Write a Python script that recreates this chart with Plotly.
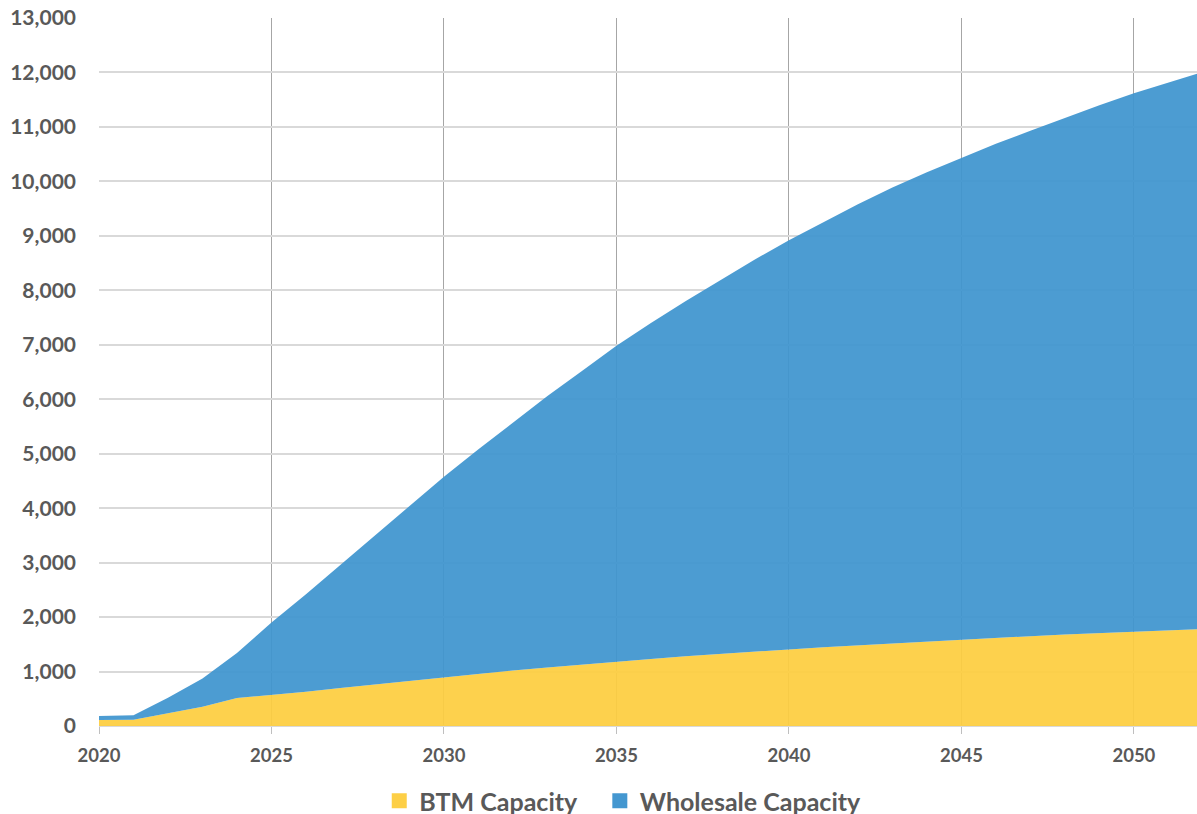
import plotly.graph_objects as go

years = list(range(2020, 2053))
btm_capacity = [110, 115, 235, 355, 515, 568, 630, 700, 765, 830, 896, 960, 1020,
                1075, 1130, 1184, 1230, 1280, 1325, 1365, 1405, 1445, 1480, 1520,
                1555, 1589, 1620, 1650, 1680, 1708, 1736, 1760, 1780]
wholesale_capacity = [75, 82, 285, 515, 825, 1332, 1790, 2260, 2735, 3210, 3682, 4120,
                      4550, 4985, 5390, 5796, 6170, 6520, 6855, 7195, 7515, 7805, 8100,
                      8370, 8615, 8841, 9070, 9280, 9490, 9692, 9884, 10060, 10230]

y_ticks = list(range(0, 14000, 1000))
x_ticks = [2020, 2025, 2030, 2035, 2040, 2045, 2050]

font_family = "Lato, 'Open Sans', sans-serif"
grey_text = "#595959"
yellow = "#FDCF46"
blue = "#4497D0"

fig = go.Figure()
fig.add_trace(go.Scatter(
    x=years, y=btm_capacity, name="BTM Capacity", stackgroup="one",
    mode="lines", line=dict(width=0, color=yellow),
    fillcolor="rgba(253,205,64,0.93)", showlegend=False,
))
fig.add_trace(go.Scatter(
    x=years, y=wholesale_capacity, name="Wholesale Capacity", stackgroup="one",
    mode="lines", line=dict(width=0, color=blue),
    fillcolor="rgba(62,148,207,0.93)", showlegend=False,
))
# legend entries (square swatches)
for nm, col in [("BTM Capacity" + "\u00a0" * 3, yellow), ("Wholesale Capacity", blue)]:
    fig.add_trace(go.Scatter(
        x=[None], y=[None], name=nm, mode="markers",
        marker=dict(symbol="square", size=15, color=col, line=dict(width=0)),
        showlegend=True,
    ))

fig.update_layout(
    width=1197, height=814,
    margin=dict(l=99, r=0, t=18, b=88),
    paper_bgcolor="white", plot_bgcolor="white",
    font=dict(family=font_family, color=grey_text, size=18),
    showlegend=True,
    legend=dict(
        orientation="h", x=0.477, xanchor="center",
        yref="container", y=(814 - 801) / 814, yanchor="middle",
        font=dict(size=25, color=grey_text, family=font_family, weight="bold"),
        traceorder="normal", bgcolor="rgba(0,0,0,0)", itemwidth=30,
        tracegroupgap=0,
    ),
    xaxis=dict(
        range=[2020, 2051.83], tickvals=x_ticks, ticktext=[str(v) for v in x_ticks],
        showgrid=True, gridcolor="#A6A6A6", gridwidth=1,
        ticks="outside", ticklen=7, tickcolor="#BFBFBF",
        tickfont=dict(size=18.5, color=grey_text, family=font_family, weight="bold"),
        ticklabelstandoff=6,
        showline=False, zeroline=False,
    ),
    yaxis=dict(
        range=[0, 13000], tickvals=y_ticks,
        ticktext=[f"{v:,}" for v in y_ticks],
        showgrid=True, gridcolor="#D9D9D9", gridwidth=1.5,
        tickfont=dict(size=21, color=grey_text, family=font_family, weight="bold"),
        ticks="", ticklabelstandoff=22,
        showline=False, zeroline=True, zerolinecolor="#D9D9D9", zerolinewidth=1.5,
    ),
)

fig.write_html("out.html")
